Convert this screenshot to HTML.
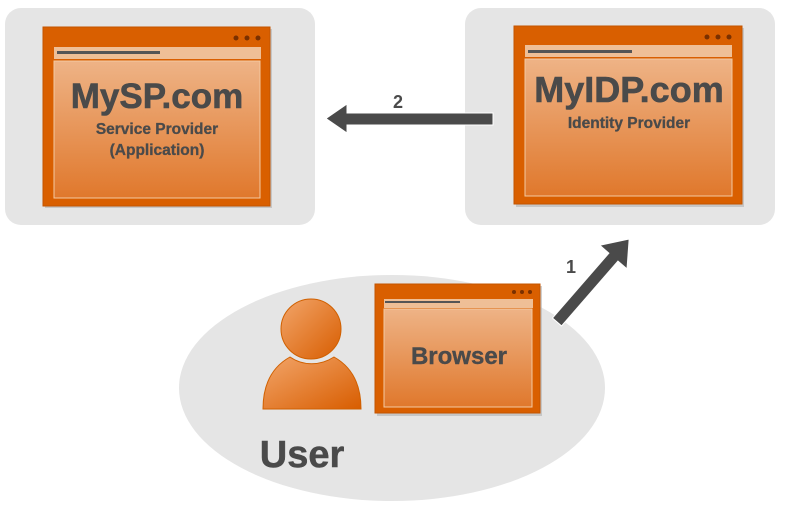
<!DOCTYPE html>
<html><head><style>
html,body{margin:0;padding:0;background:#fff;}
svg{display:block;font-family:"Liberation Sans",Arial,sans-serif;}
</style></head><body>
<svg width="787" height="513" viewBox="0 0 787 513" xmlns="http://www.w3.org/2000/svg">
<defs>
<linearGradient id="g" x1="0" y1="0" x2="0" y2="1">
<stop offset="0" stop-color="#eeb386"/><stop offset="1" stop-color="#e0782c"/>
</linearGradient>
<linearGradient id="u" x1="0" y1="0" x2="1" y2="1">
<stop offset="0" stop-color="#f2a56a"/><stop offset="1" stop-color="#d85d00"/>
</linearGradient>
</defs>
<rect x="5" y="8" width="310" height="217" rx="16" fill="#e5e5e5"/>
<rect x="465" y="8" width="310" height="217" rx="16" fill="#e5e5e5"/>
<ellipse cx="392" cy="388" rx="213" ry="113" fill="#e5e5e5"/>

<!-- SP window -->
<rect x="45" y="29" width="227" height="179" fill="#b0b0b0" opacity="0.6"/>
<rect x="43" y="27" width="227" height="179" fill="#d95f00" stroke="#c45400"/>
<circle cx="236" cy="38" r="2.5" fill="#7a3000"/><circle cx="247" cy="38" r="2.5" fill="#7a3000"/><circle cx="258" cy="38" r="2.5" fill="#7a3000"/>
<rect x="54" y="47" width="207" height="12" fill="#efbf96"/>
<rect x="57" y="51" width="103" height="3" fill="#555"/>
<rect x="54" y="61" width="206" height="137" fill="url(#g)" stroke="#f4c9a2"/>
<text x="157" y="108" text-anchor="middle" font-size="35" font-weight="bold" fill="#4a4a4a" stroke="#4a4a4a" stroke-width="0.6">MySP.com</text>
<text x="157" y="134" text-anchor="middle" font-size="15.5" font-weight="bold" fill="#4a4a4a" stroke="#4a4a4a" stroke-width="0.3">Service Provider</text>
<text x="157" y="155" text-anchor="middle" font-size="15.5" font-weight="bold" fill="#4a4a4a" stroke="#4a4a4a" stroke-width="0.3">(Application)</text>

<!-- IDP window -->
<rect x="516" y="28" width="228" height="179" fill="#b0b0b0" opacity="0.6"/>
<rect x="514" y="26" width="228" height="178" fill="#d95f00" stroke="#c45400"/>
<circle cx="707" cy="37" r="2.5" fill="#7a3000"/><circle cx="718" cy="37" r="2.5" fill="#7a3000"/><circle cx="729" cy="37" r="2.5" fill="#7a3000"/>
<rect x="525" y="45" width="207" height="12" fill="#efbf96"/>
<rect x="528" y="50" width="104" height="3" fill="#555"/>
<rect x="525" y="59" width="207" height="137" fill="url(#g)" stroke="#f4c9a2"/>
<text x="629" y="102" text-anchor="middle" font-size="36" font-weight="bold" fill="#4a4a4a" stroke="#4a4a4a" stroke-width="0.6">MyIDP.com</text>
<text x="629" y="128" text-anchor="middle" font-size="15.5" font-weight="bold" fill="#4a4a4a" stroke="#4a4a4a" stroke-width="0.3">Identity Provider</text>

<!-- arrow 2 -->
<polygon points="493,113 347,113 347,104 326,118.5 347,133 347,125 493,125" fill="#4a4a4a" stroke="#fff" stroke-width="1"/>
<text x="398" y="108" text-anchor="middle" font-size="18" font-weight="bold" fill="#4a4a4a">2</text>

<!-- arrow 1 -->
<g transform="translate(557,322) rotate(-49)">
<polygon points="0,-6 86,-6 86,-18 110,0 86,18 86,6 0,6" fill="#4a4a4a" stroke="#fff" stroke-width="1"/>
</g>
<text x="571" y="273" text-anchor="middle" font-size="18" font-weight="bold" fill="#4a4a4a">1</text>

<!-- user -->
<path d="M263,409 C263,385 272,367 290,357 C303,366 320,366 334,357 C352,367 361,385 361,409 Z" fill="url(#u)" stroke="#d06000"/>
<circle cx="311" cy="329" r="30" fill="url(#u)" stroke="#d06000"/>
<text x="302" y="467" text-anchor="middle" font-size="38" font-weight="bold" fill="#4a4a4a" stroke="#4a4a4a" stroke-width="0.5">User</text>

<!-- browser -->
<rect x="377" y="286" width="165" height="130" fill="#b0b0b0" opacity="0.6"/>
<rect x="375" y="284" width="165" height="129" fill="#d95f00" stroke="#c45400"/>
<circle cx="514" cy="292" r="2" fill="#7a3000"/><circle cx="522" cy="292" r="2" fill="#7a3000"/><circle cx="530" cy="292" r="2" fill="#7a3000"/>
<rect x="384" y="299" width="149" height="9" fill="#efbf96"/>
<rect x="385" y="301" width="75" height="2" fill="#555"/>
<rect x="384" y="309" width="148" height="98" fill="url(#g)" stroke="#f4c9a2"/>
<text x="459" y="364" text-anchor="middle" font-size="24" font-weight="bold" fill="#4a4a4a" stroke="#4a4a4a" stroke-width="0.4">Browser</text>
</svg>
</body></html>
